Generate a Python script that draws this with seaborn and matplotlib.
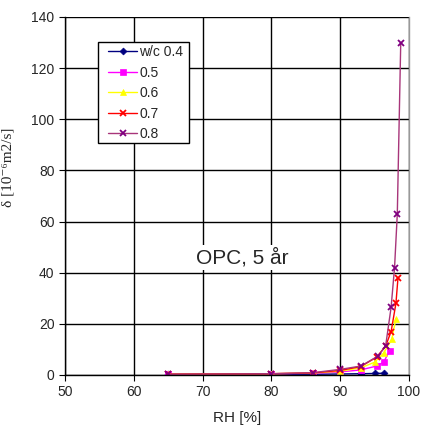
import matplotlib
matplotlib.use("Agg")
import matplotlib.pyplot as plt
from matplotlib.patches import Rectangle
import seaborn as sns
import pandas as pd

labels = ["w/c 0.4", "0.5", "0.6", "0.7", "0.8"]
rh_04 = [65, 80, 86, 90, 93, 95, 96.3]
d_04 = [0.2, 0.3, 0.3, 0.4, 0.5, 0.6, 0.7]
rh_05 = [65, 80, 86, 90, 93, 95.3, 96.3, 97.2]
d_05 = [0.3, 0.5, 0.7, 1.2, 2.0, 3.5, 5.0, 9.5]
rh_06 = [65, 80, 86, 90, 93, 95, 96.3, 97.5, 98.1]
d_06 = [0.3, 0.5, 0.8, 1.5, 2.8, 5.0, 8.5, 14, 22]
rh_07 = [65, 80, 86, 90, 93, 95.3, 96.6, 97.4, 98.1, 98.4]
d_07 = [0.3, 0.5, 0.8, 1.8, 3.3, 7.0, 11.3, 17, 28, 38]
rh_08 = [65, 80, 86, 90, 93, 95.5, 96.6, 97.4, 97.9, 98.3, 98.8]
d_08 = [0.3, 0.5, 0.9, 2.2, 3.5, 7.4, 11.3, 26.5, 42, 63, 130]

series = [(rh_04, d_04), (rh_05, d_05), (rh_06, d_06), (rh_07, d_07), (rh_08, d_08)]
line_colors = ["#000080", "#FF00FF", "#FFFF00", "#FF0000", "#A8357A"]
marker_colors = ["#000080", "#FF00FF", "#FFFF00", "#FF0000", "#800080"]
markers = ["D", "s", "^", "x", "x"]
msizes = [3.5, 4.5, 5, 5, 5]

sns.set_style("white")
plt.rcParams['font.family'] = ['Liberation Sans', 'DejaVu Sans']

W, H = 425, 428
fig = plt.figure(figsize=(W/100, H/100), dpi=100)
L, R, T, B = 65, 409, 17, 375
ax = fig.add_axes([L/W, 1-B/H, (R-L)/W, (B-T)/H])

for lab, (x, y), lc, mc, mk, ms in zip(labels, series, line_colors, marker_colors, markers, msizes):
    df = pd.DataFrame({"RH": x, "d": y})
    sns.lineplot(data=df, x="RH", y="d", ax=ax, color=lc, marker=mk, markersize=ms,
                 markerfacecolor=mc, markeredgecolor=mc, markeredgewidth=1.3 if mk == "x" else 0.5,
                 linewidth=1.0, label=lab, sort=False, errorbar=None)

ax.set_xlim(50, 100)
ax.set_ylim(0, 140)
ax.set_xticks(range(50, 101, 10))
ax.set_yticks(range(0, 141, 20))
ax.grid(True, color="black", linewidth=1.0)
ax.set_axisbelow(True)
ax.tick_params(axis="both", labelsize=10, length=4, direction="out", color="black", left=True, bottom=True)
for s in ["left", "bottom"]:
    ax.spines[s].set_color("black")
    ax.spines[s].set_linewidth(1.0)
ax.spines["top"].set_visible(False)
ax.spines["right"].set_color("#999999")
ax.spines["right"].set_linewidth(1.0)

ax.set_xlabel("RH [%]", fontsize=11, labelpad=8)
ax.set_ylabel("δ [10⁻⁶m2/s]", fontsize=11, family=["Liberation Serif", "DejaVu Serif"])
ax.yaxis.set_label_coords((15-L)/(R-L), (B-167)/(B-T))

ax.text(75.7, 46, "OPC, 5 år", fontsize=15, ha="center", va="center",
        bbox=dict(facecolor="white", edgecolor="none", pad=2))

def axx(px):
    return (px-L)/(R-L)
def axy(py):
    return (B-py)/(B-T)

box = Rectangle((axx(98), axy(143)), axx(189)-axx(98), axy(42)-axy(143), transform=ax.transAxes,
                facecolor="white", edgecolor="black", linewidth=1.0, zorder=4)
ax.add_patch(box)
leg = ax.legend(loc="upper left", bbox_to_anchor=(axx(108), axy(45)), fontsize=10, frameon=False,
                handlelength=2.1, handletextpad=0.15, borderpad=0, labelspacing=0.47,
                borderaxespad=0)
leg.set_zorder(5)

fig.savefig("out.png", dpi=100)
